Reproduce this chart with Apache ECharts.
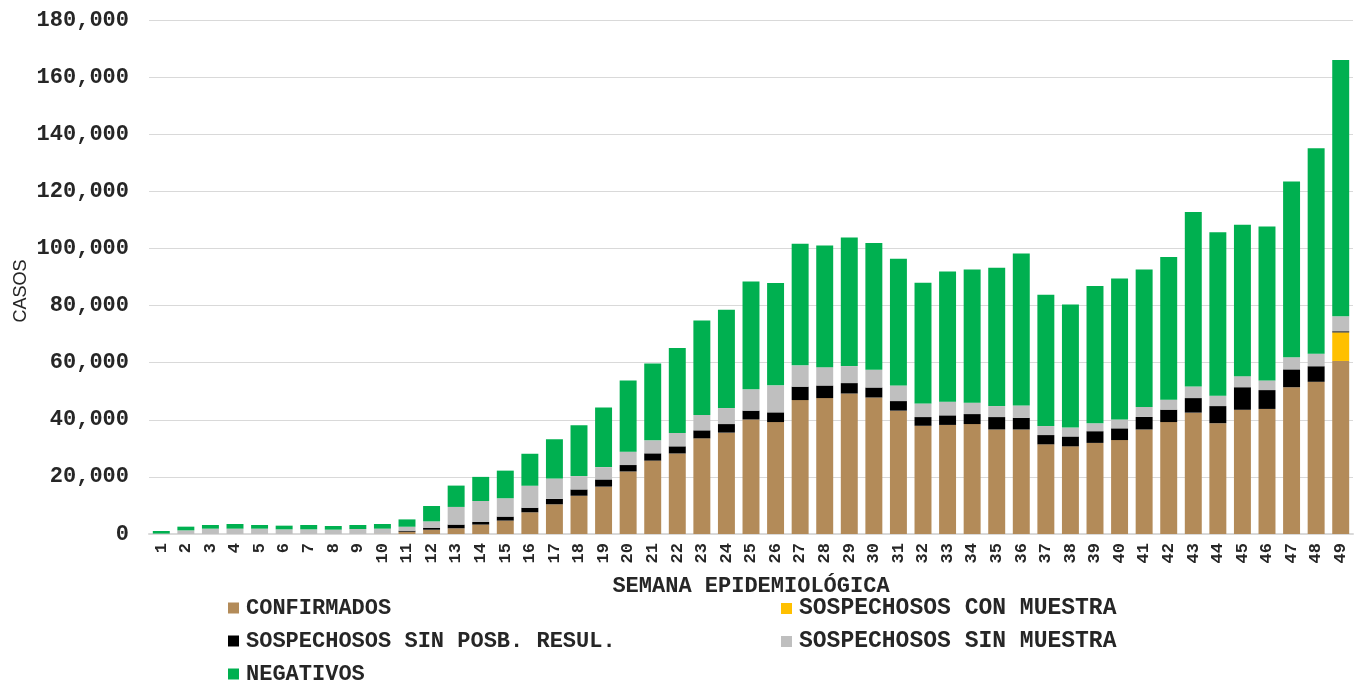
<!DOCTYPE html>
<html>
<head>
<meta charset="utf-8">
<script src="https://cdn.jsdelivr.net/npm/echarts@6/dist/echarts.min.js"></script>
<style>
html,body{margin:0;padding:0;background:#fff;}
#chart{width:1360px;height:681px;}
</style>
</head>
<body>
<div id="chart"></div>
<script>
const semanas = ['1','2','3','4','5','6','7','8','9','10','11','12','13','14','15','16','17','18','19','20','21','22','23','24','25','26','27','28','29','30','31','32','33','34','35','36','37','38','39','40','41','42','43','44','45','46','47','48','49'];

const confirmados = [0,0,0,0,0,0,0,0,10,100,800,1500,2000,3300,4700,7600,10400,13400,16600,21900,25700,28200,33500,35500,40100,39200,46900,47600,49200,47800,43200,37900,38200,38500,36600,36600,31400,30700,31900,32900,36600,39200,42500,38800,43500,43800,51400,53300,60600];

const conMuestra = [0,0,0,0,0,0,0,0,0,0,0,0,0,0,0,0,0,0,0,0,0,0,0,0,0,0,0,0,0,0,0,0,0,0,0,0,0,0,0,0,0,0,0,0,0,0,0,0,10000];

const sinPosbResul = [0,0,0,0,0,0,0,0,0,0,350,600,1300,900,1400,1600,1900,2200,2500,2250,2550,2500,2800,3000,3100,3400,4700,4400,3650,3500,3350,3050,3350,3500,4350,4100,3250,3450,4100,4100,4400,4350,5100,6000,7900,6600,6250,5450,400];

const sinMuestra = [150,1280,1870,1870,1870,1630,1630,1520,1740,1770,1400,2330,6180,7350,6420,7700,7120,4670,4320,4670,4550,4670,5370,5600,7460,9450,7460,6420,5950,6190,5480,4780,4790,3970,3850,4310,3150,3110,2770,3120,3490,3500,4030,3630,3870,3370,4250,4380,5240];

const negativos = [900,1290,1280,1630,1280,1290,1520,1280,1400,1630,2560,5370,7470,8450,9670,11200,13760,17850,20880,24960,26950,29750,33130,34420,37800,35820,42590,42580,45030,44450,44340,42240,45610,46660,48420,53200,45970,43120,48120,49380,48130,49990,61110,57260,53020,53890,61500,72000,89790];

const nombres = ['CONFIRMADOS','SOSPECHOSOS CON MUESTRA','SOSPECHOSOS SIN POSB. RESUL.','SOSPECHOSOS SIN MUESTRA','NEGATIVOS'];
const colores = ['#B38B59','#FFC000','#000000','#BFBFBF','#00B050'];
const valores = [confirmados, conMuestra, sinPosbResul, sinMuestra, negativos];

const mono = '"Liberation Mono", "DejaVu Sans Mono", monospace';

// legend slots: [series index, left, top, font size]
const legendSlots = [[0, 228, 597, 22], [1, 781, 597, 23], [2, 228, 630, 22], [3, 781, 630, 23], [4, 228, 663, 22]];

const chart = echarts.init(document.getElementById('chart'));
chart.setOption({
  animation: false,
  grid: {left: 149, right: 7, top: 20, bottom: 147, containLabel: false},
  legend: legendSlots.map(s => ({
    data: [nombres[s[0]]], left: s[1], top: s[2], orient: 'horizontal',
    itemWidth: 11, itemHeight: 11, itemGap: 0, padding: 0, icon: 'rect',
    textStyle: {fontFamily: mono, fontSize: s[3], fontWeight: 'bold', color: '#262626', lineHeight: 22, padding: [0, 0, 0, 2]},
    selectedMode: false
  })),
  xAxis: {
    type: 'category',
    data: semanas,
    name: 'SEMANA EPIDEMIOLÓGICA',
    nameLocation: 'middle',
    nameGap: 41,
    nameTextStyle: {fontFamily: mono, fontSize: 22, fontWeight: 'bold', color: '#262626'},
    axisLine: {lineStyle: {color: '#D9D9D9', width: 2}},
    axisTick: {show: false},
    axisLabel: {rotate: 90, interval: 0, margin: 9, fontFamily: mono, fontSize: 17, fontWeight: 'bold', color: '#262626'}
  },
  yAxis: {
    type: 'value',
    min: 0, max: 180000, interval: 20000,
    name: 'CASOS',
    nameLocation: 'middle',
    nameGap: 119,
    nameMoveOverlap: false,
    nameTextStyle: {fontFamily: '"Liberation Sans", Arial, sans-serif', fontSize: 18, color: '#262626', padding: [0, 28, 0, 0]},
    axisLine: {show: false},
    axisTick: {show: false},
    splitLine: {lineStyle: {color: '#D9D9D9', width: 1}},
    axisLabel: {
      margin: 20,
      fontFamily: mono, fontSize: 22, fontWeight: 'bold', color: '#262626',
      formatter: v => v.toString().replace(/\B(?=(\d{3})+(?!\d))/g, ',')
    }
  },
  series: valores.map((d, i) => ({
    name: nombres[i],
    type: 'bar',
    stack: 'total',
    data: d,
    barCategoryGap: '31%',
    itemStyle: {color: colores[i]}
  }))
});
</script>
</body>
</html>
